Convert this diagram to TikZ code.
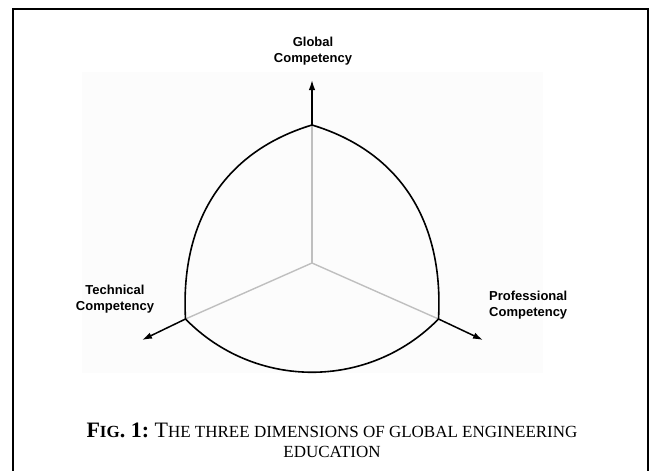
\documentclass[tikz,border=0pt]{standalone}
\usepackage{fontspec}
\setmainfont{Liberation Serif}
\newfontfamily\axisfont{Liberation Sans}
\usepackage{tikz}
\usetikzlibrary{arrows.meta}
\usetikzlibrary{positioning}
\tikzset{
    axislabel/.style = {align=center, inner sep=0pt, font=\axisfont\bfseries\fontsize{13}{16}\selectfont},
    rim/.style = {line width=1.6pt, black},
    spoke/.style = {line width=1.4pt, black!25},
    axisarrow/.style = {line width=1.5pt, -{Latex[length=10pt,width=6.5pt]}},
}
\newcommand\smallcap[1]{{\fontsize{17}{20}\selectfont #1}}

\begin{document}
\begin{tikzpicture}[x=1pt, y=-1pt]
\useasboundingbox (0,0) rectangle (649,471);
% faint backdrop of the figure
\fill[black!1] (82,72) rectangle (543,373);
% frame
\draw[line width=2pt] (13,471) -- (13,9) -- (648,9) -- (648,471);
% corners of the surface
\coordinate (O) at (312,263);
\coordinate (T) at (312,125);
\coordinate (L) at (185.5,319);
\coordinate (R) at (438.5,319);
\coordinate (Tend) at (312,80);
\coordinate (Lend) at (142,340);
\coordinate (Rend) at (483,340);
\draw[spoke] (O) -- (T);
\draw[spoke] (O) -- (L);
\draw[spoke] (O) -- (R);
\draw[rim] (T) .. controls (226,151) and (180,219) .. (L)
           .. controls (255,390) and (369,390) .. (R)
           .. controls (444,219) and (398,151) .. (T);
\draw[axisarrow] (T) -- (Tend);
\draw[axisarrow] (L) -- (Lend);
\draw[axisarrow] (R) -- (Rend);
\node[axislabel] at (313,51) (global) {Global\\Competency};
\node[axislabel] at (115,299) (technical) {Technical\\Competency};
\node[axislabel, align=left, anchor=west] at (489,305) (professional) {Professional\\Competency};
\node[align=center, inner sep=0pt, font=\fontsize{22}{20}\selectfont] at (332,440) (caption)
    {\textbf{F\smallcap{IG}. 1:}\hspace{5.5pt}T\smallcap{HE THREE DIMENSIONS OF GLOBAL ENGINEERING}\\
     \smallcap{EDUCATION}};
\end{tikzpicture}
\end{document}
